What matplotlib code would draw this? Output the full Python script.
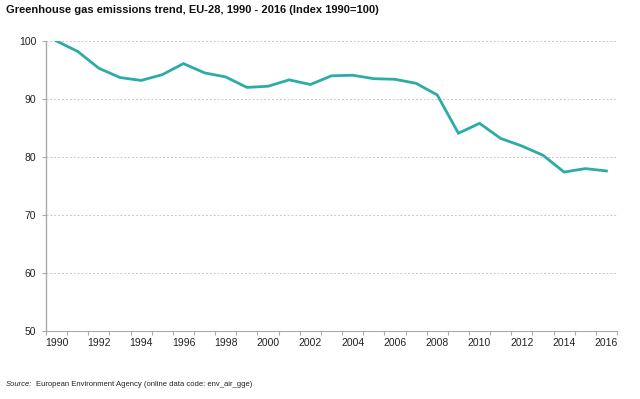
import matplotlib
matplotlib.use("Agg")
import matplotlib.pyplot as plt
import numpy as np

years = list(range(1990, 2017))
index_values = [100.0, 98.2, 95.3, 93.7, 93.2, 94.2, 96.1, 94.5, 93.8, 92.0,
                92.2, 93.3, 92.5, 94.0, 94.1, 93.5, 93.4, 92.7, 90.7, 84.1,
                85.8, 83.2, 81.9, 80.3, 77.4, 78.0, 77.6]
y_ticks = [50, 60, 70, 80, 90, 100]

plt.rcParams['font.family'] = ['Liberation Sans', 'DejaVu Sans']

fig = plt.figure(figsize=(6.4, 3.99), dpi=100)
ax = fig.add_axes([46/640, 1-331/399, (617-46)/640, (331-41)/399])

x = np.arange(len(years))
ax.plot(x, index_values, color='#2BACA6', linewidth=2.0, solid_joinstyle='miter')

ax.set_xlim(-0.5, len(years) - 0.5)
ax.set_ylim(50, 100)
ax.set_yticks(y_ticks)
ax.set_yticklabels([str(v) for v in y_ticks], fontsize=7.5, color='#222222')
ax.yaxis.grid(True, linestyle=(0, (2, 2)), color='#c8c8c8', linewidth=0.7)
ax.set_axisbelow(True)

ax.set_xticks(x[::2])
ax.set_xticklabels([str(y) for y in years[::2]], fontsize=7.5, color='#222222')
ax.set_xticks(np.arange(-0.5, len(years), 1), minor=True)
ax.tick_params(axis='x', which='major', length=0, pad=5)
ax.tick_params(axis='x', which='minor', length=3, color='#aaaaaa', width=0.8)
ax.tick_params(axis='y', length=3, color='#aaaaaa', width=0.8, pad=4)

for s in ['top', 'right']:
    ax.spines[s].set_visible(False)
ax.spines['left'].set_color('#aaaaaa')
ax.spines['bottom'].set_color('#aaaaaa')
ax.spines['left'].set_linewidth(1.0)
ax.spines['bottom'].set_linewidth(0.8)

fig.text(6/640, 1-10/399, 'Greenhouse gas emissions trend, EU-28, 1990 - 2016 (Index 1990=100)',
         fontsize=8, fontweight='bold', va='center', ha='left', color='#111111')
src = fig.text(6/640, 1-384/399, 'Source:', fontsize=5.5, style='italic', va='center', ha='left', color='#222222')
fig.canvas.draw()
bb = src.get_window_extent(renderer=fig.canvas.get_renderer())
fig.text((bb.x1 + 4) / 640, 1-384/399, 'European Environment Agency (online data code: env_air_gge)',
         fontsize=5.5, va='center', ha='left', color='#222222')

fig.savefig('out.png', dpi=100)
